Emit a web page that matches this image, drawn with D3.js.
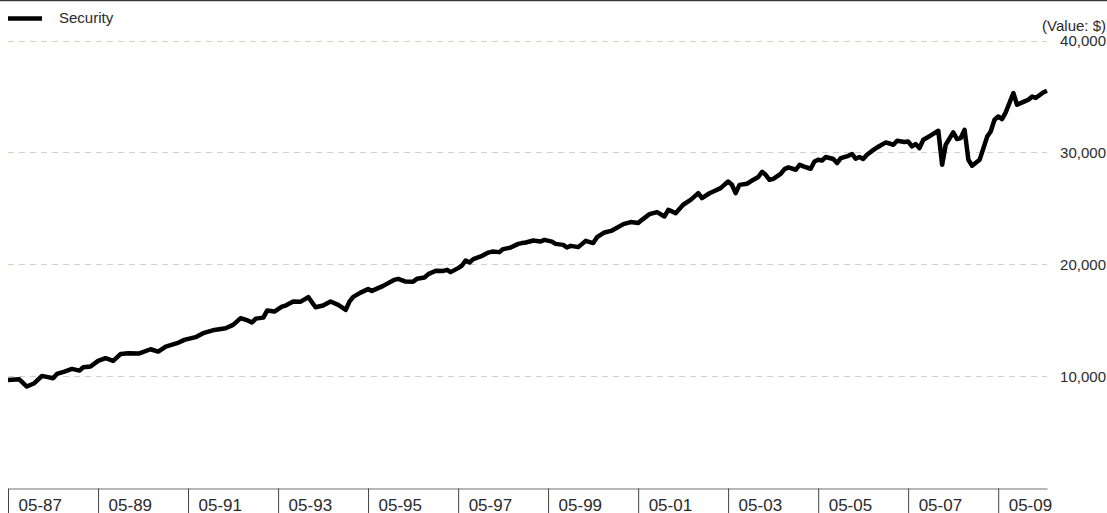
<!DOCTYPE html>
<html>
<head>
<meta charset="utf-8">
<script src="https://cdn.jsdelivr.net/npm/d3@7"></script>
<style>
  html, body { margin: 0; padding: 0; background: #ffffff; }
  svg { display: block; }
  text { font-family: "Liberation Sans", Arial, sans-serif; }
</style>
</head>
<body>
<svg id="chart" width="1107" height="513"></svg>
<script>
// ---- data ----
const seriesName = "Security";
const dates = [
  "1987-05","1987-08","1987-10","1987-12","1988-02","1988-03","1988-05","1988-06","1988-08","1988-10",
  "1988-12","1989-01","1989-03","1989-05","1989-07","1989-09","1989-11","1990-01","1990-04","1990-07",
  "1990-09","1990-11","1991-02","1991-04","1991-07","1991-09","1991-12","1992-03","1992-05","1992-07",
  "1992-09","1992-10","1992-11","1993-01","1993-02","1993-04","1993-06","1993-07","1993-09","1993-11",
  "1994-01","1994-03","1994-05","1994-07","1994-09","1994-11","1994-12","1995-01","1995-03","1995-05",
  "1995-06","1995-09","1995-12","1996-01","1996-03","1996-05","1996-06","1996-08","1996-09","1996-11",
  "1997-01","1997-02","1997-03","1997-05","1997-06","1997-07","1997-08","1997-09","1997-11","1998-01",
  "1998-02","1998-04","1998-05","1998-07","1998-09","1998-10","1998-11","1999-01","1999-03","1999-04",
  "1999-06","1999-07","1999-09","1999-10","1999-11","2000-01","2000-03","2000-05","2000-06","2000-08",
  "2000-10","2001-01","2001-03","2001-05","2001-06","2001-08","2001-10","2001-12","2002-01","2002-03",
  "2002-05","2002-07","2002-09","2002-10","2002-12","2003-01","2003-03","2003-05","2003-06","2003-07",
  "2003-08","2003-10","2003-11","2004-01","2004-02","2004-03","2004-04","2004-05","2004-07","2004-08",
  "2004-09","2004-11","2004-12","2005-01","2005-03","2005-04","2005-05","2005-06","2005-07","2005-09",
  "2005-10","2005-11","2006-01","2006-02","2006-03","2006-04","2006-05","2006-06","2006-08","2006-09",
  "2006-11","2007-01","2007-02","2007-04","2007-05","2007-06","2007-07","2007-08","2007-09","2007-11",
  "2008-01","2008-02","2008-03","2008-05","2008-06","2008-07","2008-08","2008-09","2008-10","2008-12",
  "2009-02","2009-03","2009-04","2009-05","2009-06","2009-07","2009-09","2009-10","2009-12","2010-01",
  "2010-02","2010-03","2010-05","2010-06"
];
const values = [
  9640, 9700, 9050, 9350, 10000, 9940, 9800, 10180, 10390, 10630,
  10480, 10780, 10840, 11350, 11590, 11350, 11970, 12040, 12020, 12390,
  12180, 12630, 12930, 13230, 13470, 13830, 14120, 14270, 14570, 15170,
  14950, 14780, 15130, 15220, 15850, 15760, 16210, 16300, 16660, 16650,
  17050, 16150, 16300, 16660, 16360, 15910, 16650, 17080, 17460, 17770,
  17610, 18060, 18600, 18690, 18450, 18440, 18690, 18810, 19110, 19410,
  19400, 19500, 19290, 19650, 19880, 20330, 20150, 20450, 20690, 21040,
  21130, 21080, 21350, 21490, 21820, 21890, 21940, 22120, 22030, 22180,
  22020, 21820, 21730, 21490, 21640, 21530, 22090, 21890, 22420, 22840,
  23010, 23590, 23770, 23680, 23970, 24480, 24660, 24270, 24870, 24570,
  25320, 25760, 26360, 25920, 26350, 26510, 26810, 27400, 27110, 26360,
  27100, 27200, 27420, 27800, 28270, 28000, 27550, 27640, 28090, 28510,
  28660, 28450, 28900, 28750, 28540, 29190, 29350, 29280, 29590, 29410,
  29050, 29500, 29700, 29860, 29440, 29590, 29410, 29790, 30300, 30510,
  30900, 30690, 31050, 30930, 30980, 30540, 30750, 30390, 31140, 31520,
  31940, 28900, 30690, 31790, 31200, 31290, 32030, 29350, 28810, 29340,
  31430, 31880, 32930, 33220, 32990, 33580, 35320, 34270, 34570, 34720,
  35010, 34870, 35370, 35520
];
const xTickDates = ["1987-05","1989-05","1991-05","1993-05","1995-05","1997-05","1999-05","2001-05","2003-05","2005-05","2007-05","2009-05"];
const xTickLabels = ["05-87","05-89","05-91","05-93","05-95","05-97","05-99","05-01","05-03","05-05","05-07","05-09"];
const yTicks = [10000, 20000, 30000, 40000];
const yUnitLabel = "(Value: $)";

// ---- chart ----
const parse = d3.timeParse("%Y-%m");
const data = dates.map((d, i) => ({ date: parse(d), value: values[i] }));

const svg = d3.select("#chart");
const W = 1107, H = 513;

const x = d3.scaleTime()
  .domain([parse("1987-05"), parse("2010-06")])
  .range([8, 1047]);
const y = d3.scaleLinear()
  .domain([0, 40000])
  .range([487.7, 40.7]);

// top border
svg.append("line")
  .attr("x1", 0).attr("x2", W).attr("y1", 0.5).attr("y2", 0.5)
  .attr("stroke", "#3a3a3a").attr("stroke-width", 1.5);

// gridlines
const grid = svg.append("g").attr("class", "grid");
grid.selectAll("line").data(yTicks).join("line")
  .attr("x1", x.range()[0]).attr("x2", x.range()[1])
  .attr("y1", d => Math.round(y(d)) + 0.5)
  .attr("y2", d => Math.round(y(d)) + 0.5)
  .attr("stroke", "#d6cfc2")
  .attr("stroke-width", 1)
  .attr("stroke-dasharray", "6,5");

// y labels (right side)
const yAxis = d3.axisRight(y)
  .tickValues(yTicks)
  .tickSize(0)
  .tickFormat(d3.format(","));
const gy = svg.append("g")
  .attr("transform", "translate(1106,0)")
  .call(yAxis);
gy.select(".domain").remove();
gy.selectAll("text")
  .attr("x", 0)
  .attr("text-anchor", "end")
  .attr("dy", "0.35em")
  .attr("fill", "#2a2a2a")
  .style("font-size", "15px");

svg.append("text")
  .attr("x", 1106)
  .attr("y", y(40000) - 15)
  .attr("dy", "0.35em")
  .attr("text-anchor", "end")
  .attr("fill", "#2a2a2a")
  .style("font-size", "15px")
  .text(yUnitLabel);

// x axis
const xAxis = d3.axisBottom(x)
  .tickValues(xTickDates.map(parse))
  .tickSize(30)
  .tickSizeOuter(0)
  .tickFormat((d, i) => xTickLabels[i]);
const gx = svg.append("g")
  .attr("transform", "translate(0," + (Math.round(y(0)) + 0.5) + ")")
  .call(xAxis);
gx.select(".domain").attr("stroke", "#6e6e6e").attr("stroke-width", 1);
gx.selectAll(".tick line").attr("stroke", "#444");
gx.selectAll(".tick text")
  .attr("x", 10)
  .attr("y", 0)
  .attr("dy", 0)
  .attr("transform", "translate(0,22)")
  .attr("text-anchor", "start")
  .attr("fill", "#2a2a2a")
  .style("font-size", "17px");

// series line
const line = d3.line()
  .x(d => x(d.date))
  .y(d => y(d.value));
svg.append("path")
  .datum(data)
  .attr("fill", "none")
  .attr("stroke", "#000")
  .attr("stroke-width", 4.5)
  .attr("stroke-linejoin", "round")
  .attr("stroke-linecap", "butt")
  .attr("d", line);

// legend
const legend = svg.append("g");
legend.append("line")
  .attr("x1", 8).attr("x2", 42).attr("y1", 18.5).attr("y2", 18.5)
  .attr("stroke", "#000").attr("stroke-width", 4.5);
legend.append("text")
  .attr("x", 59).attr("y", 23)
  .attr("fill", "#2a2a2a")
  .style("font-size", "15px")
  .text(seriesName);
</script>
</body>
</html>
